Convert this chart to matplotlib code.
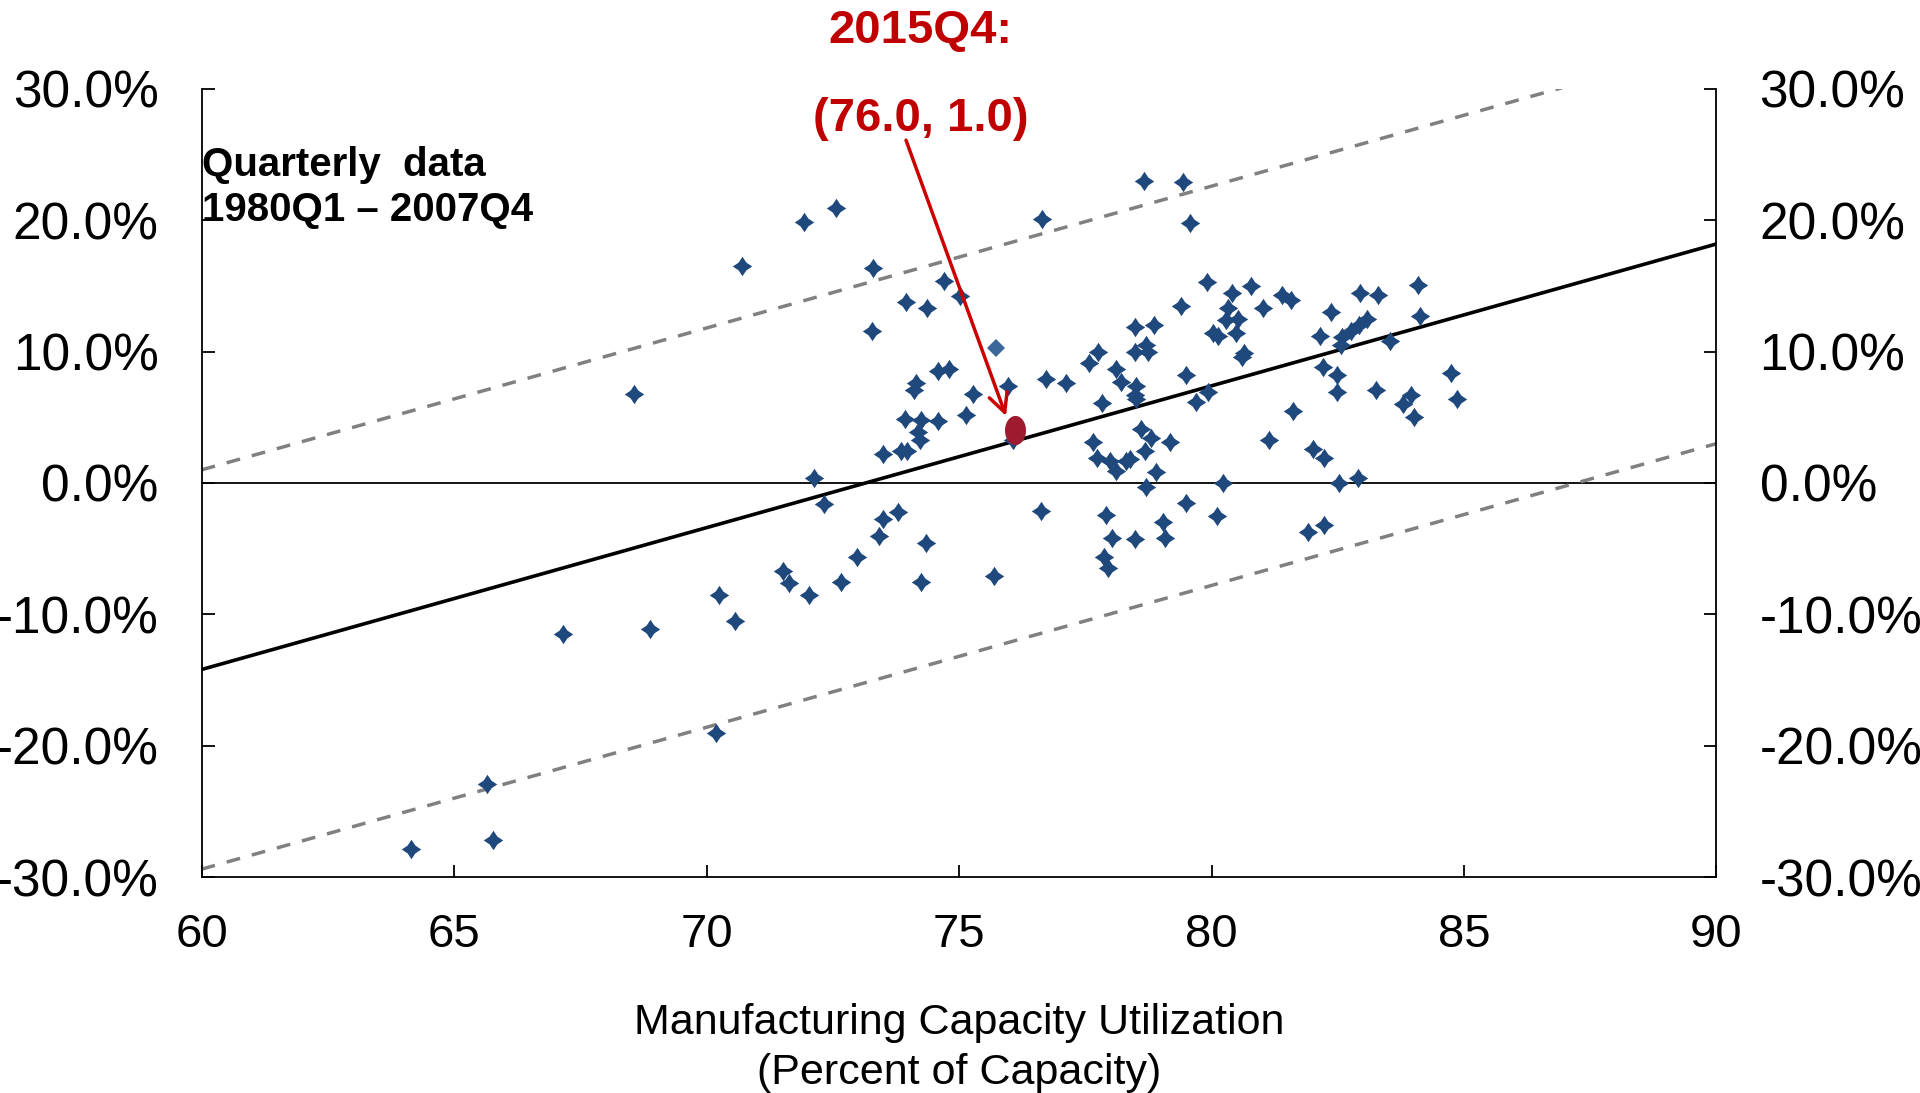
import numpy as np
import matplotlib
matplotlib.use("Agg")
import matplotlib.pyplot as plt
from matplotlib.path import Path

plt.rcParams['font.family'] = ['Liberation Sans', 'DejaVu Sans']

# quarterly data 1980Q1 - 2007Q4
cap_util = [64.15, 65.65, 65.77, 67.15, 68.56, 68.88, 70.19, 70.24, 70.57, 70.70,
            71.52, 71.64, 71.93, 72.03, 72.13, 72.32, 72.56, 72.66, 72.97, 73.27,
            73.30, 73.41, 73.49, 73.49, 73.79, 73.86, 73.92, 73.94, 73.97, 74.10,
            74.15, 74.19, 74.22, 74.25, 74.25, 74.34, 74.37, 74.58, 74.58, 74.70,
            74.81, 75.01, 75.14, 75.28, 75.69, 75.96, 76.07, 76.63, 76.64, 76.72,
            77.12, 77.57, 77.65, 77.73, 77.75, 77.84, 77.87, 77.92, 77.95, 77.99,
            78.02, 78.10, 78.11, 78.21, 78.31, 78.38, 78.48, 78.48, 78.48, 78.48,
            78.50, 78.51, 78.61, 78.67, 78.68, 78.71, 78.71, 78.74, 78.81, 78.86,
            78.91, 79.04, 79.07, 79.18, 79.39, 79.43, 79.50, 79.50, 79.57, 79.70,
            79.92, 79.93, 80.03, 80.11, 80.13, 80.23, 80.28, 80.33, 80.41, 80.49,
            80.53, 80.61, 80.64, 80.79, 81.02, 81.13, 81.40, 81.58, 81.62, 81.91,
            82.00, 82.14, 82.21, 82.22, 82.22, 82.37, 82.49, 82.49, 82.53, 82.57,
            82.59, 82.77, 82.90, 82.92, 82.94, 83.07, 83.25, 83.29, 83.54, 83.79,
            83.96, 84.00, 84.09, 84.13, 84.75, 84.86]
growth = [-27.9, -22.9, -27.2, -11.5, 6.8, -11.1, -19.0, -8.5, -10.5, 16.5,
          -6.7, -7.6, 19.9, -8.5, 0.4, -1.6, 20.9, -7.5, -5.6, 11.6,
          16.4, -4.0, 2.2, -2.75, -2.2, 2.4, 4.9, 13.8, 2.4, 7.1,
          7.6, 3.9, 3.3, 4.8, -7.5, -4.55, 13.3, 4.7, 8.5, 15.4,
          8.7, 14.2, 5.2, 6.8, -7.1, 7.4, 3.3, -2.1, 20.1, 7.9,
          7.6, 9.1, 3.1, 1.9, 10.0, 6.1, -5.65, -2.4, -6.45, 1.7,
          -4.15, 0.9, 8.7, 7.7, 1.65, 1.8, 11.9, 10.0, 6.7, -4.3,
          6.4, 7.4, 4.1, 23.0, 2.4, 10.5, -0.3, 10.0, 3.4, 12.0,
          0.85, -3.0, -4.2, 3.1, 13.5, 22.9, 8.25, -1.5, 19.8, 6.2,
          15.3, 6.9, 11.4, -2.5, 11.2, 0.0, 12.4, 13.3, 14.5, 11.4,
          12.5, 9.6, 9.9, 15.0, 13.3, 3.25, 14.3, 13.9, 5.5, -3.75,
          2.6, 11.2, 8.8, 1.9, -3.2, 13.0, 8.25, 6.9, 0.0, 10.5,
          11.1, 11.6, 0.35, 12.05, 14.5, 12.45, 7.05, 14.3, 10.8, 6.0,
          6.7, 5.0, 15.1, 12.7, 8.4, 6.4]

# the one lighter diamond
extra_x = [75.74]
extra_y = [10.3]

# 2015Q4 point
highlight_x = [76.1]
highlight_y = [4.0]

# fitted line and +/- band, endpoints
fit_x = [60, 90]
fit_y = [-14.2, 18.2]
band = 15.2

arrow_from = (73.95, 26.1)
arrow_to = (75.93, 5.1)

fig = plt.figure(figsize=(19.2, 10.93), dpi=100)
ax = fig.add_axes([0.105, 0.1976, 0.789, 0.721])

# star-ish diamond like the original markers
k = 0.40
star = Path([(0, 1), (k, k), (1, 0), (k, -k), (0, -1), (-k, -k), (-1, 0), (-k, k), (0, 1)],
            [Path.MOVETO] + [Path.LINETO] * 7 + [Path.CLOSEPOLY])

ax.axhline(0, color='black', lw=1.3, zorder=1)
ax.plot(fit_x, fit_y, color='black', lw=2.6, zorder=2)
ax.plot(fit_x, [v + band for v in fit_y], color='#808080', lw=2.5, ls=(0, (4, 3.5)), zorder=2)
ax.plot(fit_x, [v - band for v in fit_y], color='#808080', lw=2.5, ls=(0, (4, 3.5)), zorder=2)

ax.plot(cap_util, growth, ls='none', marker=star, ms=14, color='#1F497D',
        markeredgewidth=0, zorder=3)
ax.plot(extra_x, extra_y, ls='none', marker='D', ms=9, color='#3B6698',
        markeredgewidth=0, zorder=3)

theta = np.linspace(0, 2 * np.pi, 60)
ell = Path(np.column_stack([0.72 * np.cos(theta), np.sin(theta)]))
ax.plot(highlight_x, highlight_y, ls='none', marker=ell, ms=21, color='#9E1B2F',
        markeredgewidth=0, zorder=4)

ax.annotate('', xy=arrow_to, xytext=arrow_from, annotation_clip=False,
            arrowprops=dict(arrowstyle='->', color='#CC0000', lw=2.5,
                            mutation_scale=34, shrinkA=0, shrinkB=0))

ax.text(60.0, 24.2, 'Quarterly  data', fontsize=29, fontweight='bold', va='center', ha='left')
ax.text(60.0, 20.8, '1980Q1 – 2007Q4', fontsize=29, fontweight='bold', va='center', ha='left')

fig.text(0.4796, 0.972, '2015Q4:', fontsize=34, fontweight='bold', color='#C00000',
         ha='center', va='center')
fig.text(0.4796, 0.891, '(76.0, 1.0)', fontsize=34, fontweight='bold', color='#C00000',
         ha='center', va='center')

ax.set_xlim(60, 90)
ax.set_ylim(-30, 30)
ax.set_xticks([60, 65, 70, 75, 80, 85, 90])
ax.set_yticks([-30, -20, -10, 0, 10, 20, 30])
ax.set_yticklabels(['%.1f%%' % v for v in [-30, -20, -10, 0, 10, 20, 30]])

ax.spines['top'].set_visible(False)
for s in ['left', 'right', 'bottom']:
    ax.spines[s].set_linewidth(1.3)

ax.tick_params(axis='y', direction='in', length=9, width=1.3, labelsize=37, pad=31,
               left=True, right=True, labelleft=True, labelright=True)
ax.tick_params(axis='x', direction='in', length=9, width=1.3, labelsize=34, pad=26)

ax.set_xlabel('Manufacturing Capacity Utilization\n(Percent of Capacity)', fontsize=31,
              labelpad=33, linespacing=1.33)

fig.savefig('out.png', dpi=100)
